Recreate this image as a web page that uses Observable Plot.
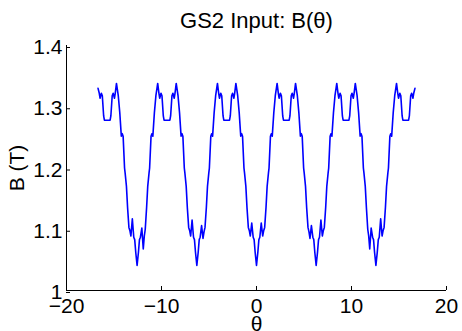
<!DOCTYPE html>
<html>
<head>
<meta charset="utf-8">
<script src="https://cdn.jsdelivr.net/npm/d3@7"></script>
<script src="https://cdn.jsdelivr.net/npm/@observablehq/plot@0.6"></script>
<style>
  html, body { margin: 0; padding: 0; background: #fff; }
</style>
</head>
<body>
<div id="chart"></div>
<script>
const titleText = "GS2 Input: B(θ)";
const xLabel = "θ";
const yLabel = "B (T)";
const xTicks = [-20, -10, 0, 10, 20];
const yTicks = [1, 1.1, 1.2, 1.3, 1.4];

// θ samples
const theta = [
  // left tail
  -16.68, -16.55, -16.47, -16.33, -16.23, -16.09, -16.01,
  // well around -4π
  -15.41, -15.33, -15.19, -15.09, -14.95, -14.87, -14.74, -14.55, -14.39, -14.23, -14.13, -14.04,
  -13.89, -13.83, -13.69, -13.57, -13.43, -13.33, -13.22, -13.07, -12.92, -12.82, -12.71,
  -12.57,
  -12.43, -12.32, -12.22, -12.07, -11.92, -11.81, -11.71, -11.57, -11.45, -11.31, -11.25,
  -11.10, -11.01, -10.91, -10.75, -10.59, -10.40, -10.27, -10.19, -10.05, -9.95, -9.81, -9.73,
  // well around -2π
  -9.12, -9.04, -8.90, -8.80, -8.66, -8.58, -8.45, -8.26, -8.10, -7.94, -7.84, -7.75,
  -7.60, -7.54, -7.40, -7.28, -7.14, -7.04, -6.93, -6.78, -6.63, -6.53, -6.42,
  -6.28,
  -6.14, -6.03, -5.93, -5.78, -5.63, -5.52, -5.42, -5.28, -5.16, -5.02, -4.96,
  -4.81, -4.72, -4.62, -4.46, -4.30, -4.11, -3.98, -3.90, -3.76, -3.66, -3.52, -3.44,
  // well around 0
  -2.84, -2.76, -2.62, -2.52, -2.38, -2.30, -2.17, -1.98, -1.82, -1.66, -1.56, -1.47,
  -1.32, -1.26, -1.12, -1.00, -0.86, -0.76, -0.65, -0.50, -0.35, -0.25, -0.14,
  0,
  0.14, 0.25, 0.35, 0.50, 0.65, 0.76, 0.86, 1.00, 1.12, 1.26, 1.32,
  1.47, 1.56, 1.66, 1.82, 1.98, 2.17, 2.30, 2.38, 2.52, 2.62, 2.76, 2.84,
  // well around 2π
  3.44, 3.52, 3.66, 3.76, 3.90, 3.98, 4.11, 4.30, 4.46, 4.62, 4.72, 4.81,
  4.96, 5.02, 5.16, 5.28, 5.42, 5.52, 5.63, 5.78, 5.93, 6.03, 6.14,
  6.28,
  6.42, 6.53, 6.63, 6.78, 6.93, 7.04, 7.14, 7.28, 7.40, 7.54, 7.60,
  7.75, 7.84, 7.94, 8.10, 8.26, 8.45, 8.58, 8.66, 8.80, 8.90, 9.04, 9.12,
  // well around 4π
  9.73, 9.81, 9.95, 10.05, 10.19, 10.27, 10.40, 10.59, 10.75, 10.91, 11.01, 11.10,
  11.25, 11.31, 11.45, 11.57, 11.71, 11.81, 11.92, 12.07, 12.22, 12.32, 12.43,
  12.57,
  12.71, 12.82, 12.92, 13.07, 13.22, 13.33, 13.43, 13.57, 13.69, 13.83, 13.89,
  14.04, 14.13, 14.23, 14.39, 14.55, 14.74, 14.87, 14.95, 15.09, 15.19, 15.33, 15.41,
  // right tail
  16.01, 16.09, 16.23, 16.33, 16.47, 16.55, 16.68
];

// B (T) values, same order as theta
const bField = [
  // left tail
  1.330, 1.322, 1.314, 1.322, 1.318, 1.285, 1.278,
  // well around -4π
  1.278, 1.285, 1.318, 1.322, 1.314, 1.322, 1.338, 1.318, 1.290, 1.252, 1.256, 1.252,
  1.200, 1.192, 1.170, 1.135, 1.103, 1.098, 1.089, 1.117, 1.087, 1.083, 1.062,
  1.041,
  1.062, 1.083, 1.087, 1.102, 1.068, 1.089, 1.100, 1.135, 1.170, 1.192, 1.200,
  1.252, 1.256, 1.252, 1.290, 1.318, 1.338, 1.322, 1.314, 1.322, 1.318, 1.285, 1.278,
  // well around -2π
  1.278, 1.285, 1.318, 1.322, 1.314, 1.322, 1.338, 1.318, 1.290, 1.252, 1.256, 1.252,
  1.200, 1.192, 1.170, 1.135, 1.103, 1.098, 1.089, 1.115, 1.087, 1.083, 1.062,
  1.041,
  1.062, 1.083, 1.087, 1.106, 1.085, 1.096, 1.103, 1.135, 1.170, 1.192, 1.200,
  1.252, 1.256, 1.252, 1.290, 1.318, 1.338, 1.322, 1.314, 1.322, 1.318, 1.285, 1.278,
  // well around 0
  1.278, 1.285, 1.318, 1.322, 1.314, 1.322, 1.338, 1.318, 1.290, 1.252, 1.256, 1.252,
  1.200, 1.192, 1.170, 1.135, 1.103, 1.098, 1.089, 1.110, 1.087, 1.083, 1.062,
  1.041,
  1.062, 1.083, 1.087, 1.110, 1.089, 1.098, 1.103, 1.135, 1.170, 1.192, 1.200,
  1.252, 1.256, 1.252, 1.290, 1.318, 1.338, 1.322, 1.314, 1.322, 1.318, 1.285, 1.278,
  // well around 2π
  1.278, 1.285, 1.318, 1.322, 1.314, 1.322, 1.338, 1.318, 1.290, 1.252, 1.256, 1.252,
  1.200, 1.192, 1.170, 1.135, 1.103, 1.096, 1.085, 1.106, 1.087, 1.083, 1.062,
  1.041,
  1.062, 1.083, 1.087, 1.115, 1.089, 1.098, 1.103, 1.135, 1.170, 1.192, 1.200,
  1.252, 1.256, 1.252, 1.290, 1.318, 1.338, 1.322, 1.314, 1.322, 1.318, 1.285, 1.278,
  // well around 4π
  1.278, 1.285, 1.318, 1.322, 1.314, 1.322, 1.338, 1.318, 1.290, 1.252, 1.256, 1.252,
  1.200, 1.192, 1.170, 1.135, 1.100, 1.089, 1.068, 1.102, 1.087, 1.083, 1.062,
  1.041,
  1.062, 1.083, 1.087, 1.117, 1.089, 1.098, 1.103, 1.135, 1.170, 1.192, 1.200,
  1.252, 1.256, 1.252, 1.290, 1.318, 1.338, 1.322, 1.314, 1.322, 1.318, 1.285, 1.278,
  // right tail
  1.278, 1.285, 1.318, 1.322, 1.314, 1.322, 1.330
];

const data = theta.map((t, i) => ({theta: t, b: bField[i]}));
const fmt = d => d < 0 ? "\u2212" + Math.abs(d) : String(d);

const chart = Plot.plot({
  width: 462,
  height: 331,
  marginLeft: 66,
  marginRight: 16,
  marginTop: 45,
  marginBottom: 41,
  style: {
    fontFamily: "'Liberation Sans', Arial, Helvetica, sans-serif",
    fontSize: "21px",
    color: "#000",
    background: "#fff"
  },
  x: {domain: [-20, 20]},
  y: {domain: [1, 1.4]},
  marks: [
    Plot.ruleY([1], {stroke: "#000", strokeWidth: 1}),
    Plot.ruleX([-20], {stroke: "#000", strokeWidth: 1}),
    Plot.line(data, {x: "theta", y: "b", stroke: "#0000ff", strokeWidth: 1.6}),
    Plot.axisX({ticks: xTicks, tickSize: -4, tickPadding: 12, tickFormat: fmt,
      label: xLabel, labelAnchor: "center", labelArrow: "none", labelOffset: 40}),
    Plot.axisY({ticks: yTicks, tickSize: -4, tickPadding: 8, tickFormat: fmt, dy: 2,
      label: yLabel, labelAnchor: "center", labelArrow: "none", labelOffset: 57}),
    Plot.text([titleText], {text: d => d, frameAnchor: "top", lineAnchor: "bottom", dy: -18, fontSize: 22})
  ]
});
document.getElementById("chart").appendChild(chart);
</script>
</body>
</html>
